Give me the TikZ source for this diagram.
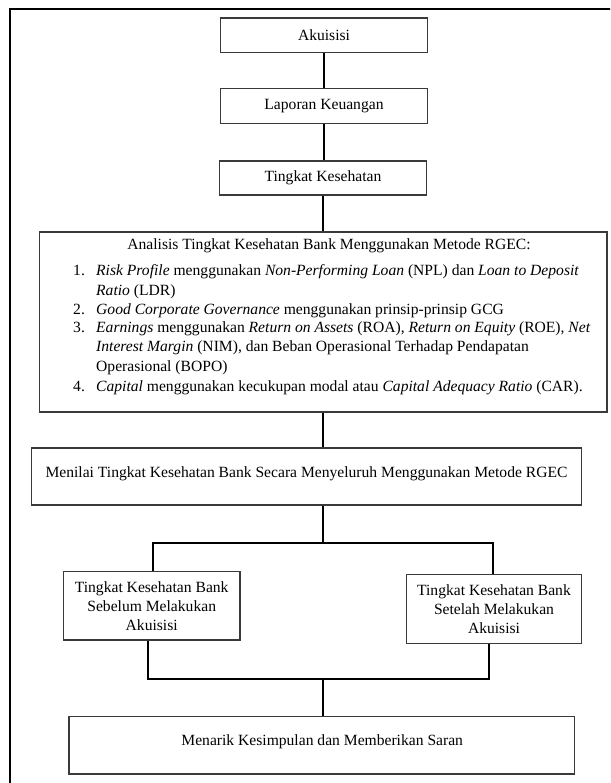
\documentclass[tikz,border=0pt]{standalone}
\usepackage{fontspec}
\setmainfont{Liberation Serif}
\begin{document}
\begin{tikzpicture}[x=1pt,y=-1pt,
  every node/.style={font=\fontsize{15.6}{19}\selectfont, inner sep=0pt, text=black},
  box/.style={draw=boxgray, line width=1.2pt, fill=white, align=center},
  conn/.style={draw=black, line width=2pt},
  txt/.style={anchor=base west},
]
\definecolor{boxgray}{HTML}{3A3A3A}
\useasboundingbox (0,0) rectangle (610,783);
\fill[white] (0,0) rectangle (610,783);
\begin{scope}
\clip (0,0) rectangle (610,783);
\draw[line width=2.4pt] (10,800) -- (10,9) -- (620,9);
\end{scope}

% boxes
\node[box, minimum width=206.6pt, minimum height=34.3pt] (a)  at (324,35.2) {Akuisisi};
\node[box, minimum width=206.6pt, minimum height=34.3pt] (lk) at (324,106) {Laporan Keuangan};
\node[box, minimum width=206.3pt, minimum height=34pt]   (tk) at (323,178) {Tingkat Kesehatan};
\node[box, minimum width=567.7pt, minimum height=180pt]  (an) at (323.15,322) {};
\node[box, minimum width=549.6pt, minimum height=57pt]   (mn) at (306.5,476.5) {};
\node[box, minimum width=176.7pt, minimum height=68.3pt] (lb) at (151.7,605.9) {Tingkat Kesehatan Bank\\Sebelum Melakukan\\Akuisisi};
\node[box, minimum width=174.6pt, minimum height=69pt]   (rb) at (494,608.8) {Tingkat Kesehatan Bank\\Setelah Melakukan\\Akuisisi};
\node[box, minimum width=505.7pt, minimum height=57.3pt] (mk) at (321.9,745.4) {};

% texts inside large boxes
\node[anchor=base] (ant) at (329,250) {Analisis Tingkat Kesehatan Bank Menggunakan Metode RGEC:};
\node[txt] (l1) at (73,276) {\makebox[23pt][l]{1.}\textit{Risk Profile} menggunakan \textit{Non-Performing Loan} (NPL) dan \textit{Loan to Deposit}};
\node[txt] (l2) at (73,295) {\makebox[23pt][l]{}\textit{Ratio} (LDR)};
\node[txt] (l3) at (73,314) {\makebox[23pt][l]{2.}\textit{Good Corporate Governance} menggunakan prinsip-prinsip GCG};
\node[txt] (l4) at (73,332) {\makebox[23pt][l]{3.}\textit{Earnings} menggunakan \textit{Return on Assets} (ROA), \textit{Return on Equity} (ROE), \textit{Net}};
\node[txt] (l5) at (73,351) {\makebox[23pt][l]{}\textit{Interest Margin} (NIM), dan Beban Operasional Terhadap Pendapatan};
\node[txt] (l6) at (73,371) {\makebox[23pt][l]{}Operasional (BOPO)};
\node[txt] (l7) at (73,391) {\makebox[23pt][l]{4.}\textit{Capital} menggunakan kecukupan modal atau \textit{Capital Adequacy Ratio} (CAR).};
\node[anchor=base] (mnt) at (306.5,477) {Menilai Tingkat Kesehatan Bank Secara Menyeluruh Menggunakan Metode RGEC};
\node[anchor=base] (mkt) at (322.2,745) {Menarik Kesimpulan dan Memberikan Saran};

% connectors
\coordinate (fk) at (323,543.3);
\coordinate (jn) at (323,679);
\draw[conn] (a.south) -- (lk.north);
\draw[conn] (lk.south) -- (lk.south |- tk.north);
\draw[conn] (tk.south) -- (tk.south |- an.north);
\draw[conn] (fk |- an.south) -- (fk |- mn.north);
\draw[conn] (fk |- mn.south) -- (fk);
\draw[conn] ([xshift=1pt]lb.north) |- (fk) -| ([xshift=-1.3pt]rb.north);
\draw[conn] ([xshift=-3.4pt]lb.south) |- (jn) -| ([xshift=-4.7pt]rb.south);
\draw[conn] (jn) -- (jn |- mk.north);
\end{tikzpicture}
\end{document}
